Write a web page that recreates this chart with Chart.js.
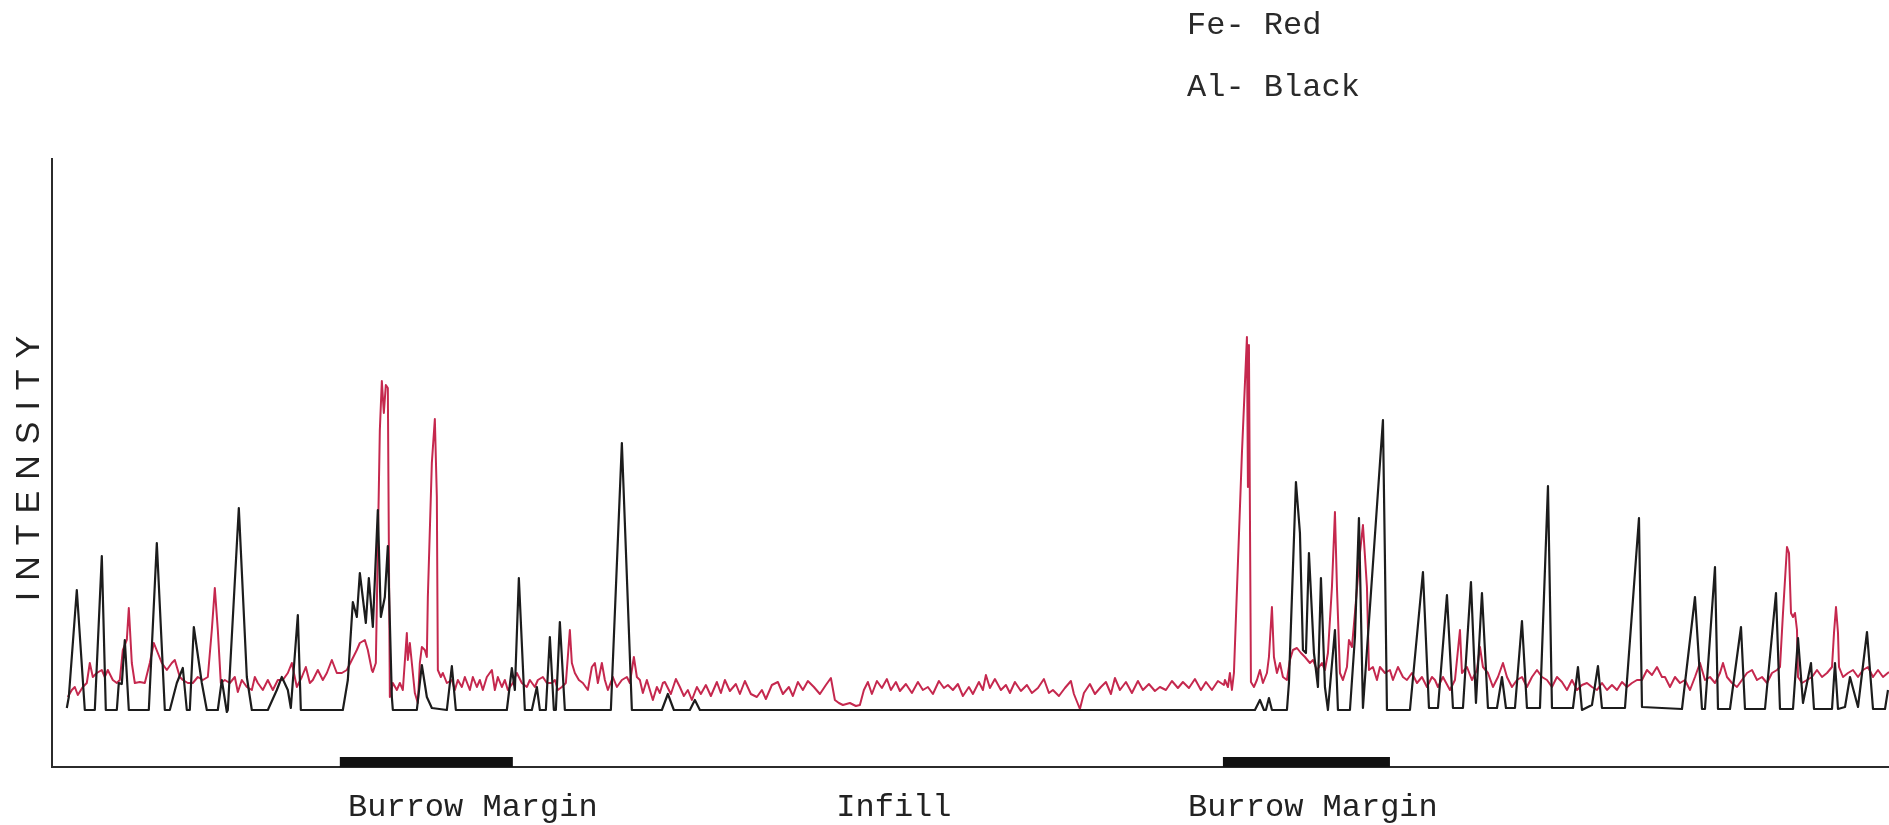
<!DOCTYPE html>
<html>
<head>
    <meta charset="UTF-8">
    <title>Fe / Al intensity profile across burrow</title>
    <script src="https://cdn.jsdelivr.net/npm/chart.js"></script>
    <style>
        body {
            margin: 0;
            background-color: #fff;
        }

        .wrap {
            position: relative;
            width: 1889px;
            height: 825px;
        }

        /* typewriter style key, top right */
        .key {
            position: absolute;
            left: 1187px;
            font-family: "Liberation Mono", monospace;
            font-size: 32px;
            line-height: 32px;
            color: #2a2a2a;
            white-space: pre;
        }
    </style>
</head>
<body>
    <div class="wrap">
        <canvas id="profileChart" width="1889" height="825"></canvas>
        <div class="key" style="top: 10px;">Fe- Red</div>
        <div class="key" style="top: 72px;">Al- Black</div>
    </div>

    <script>
        // Al trace (black): distance along traverse / intensity
        var alDistance = [15, 17, 25, 33, 43, 50, 54, 65, 67, 70, 73, 77, 97, 105, 113, 118, 125, 131, 135, 138,
            142, 150, 155, 166, 170, 175, 176, 187, 195, 200, 216, 225, 230, 236, 239, 246, 249, 291, 296, 301,
            305, 308, 314, 317, 321, 326, 329, 333, 336, 340, 341, 365, 370, 375, 380, 395, 400, 404, 455, 460,
            463, 467, 473, 480, 485, 488, 494, 498, 502, 504, 508, 513, 559, 570, 580, 610, 616, 622, 638, 643,
            648, 1203, 1208, 1212, 1214, 1217, 1220, 1235, 1237, 1244, 1248, 1251, 1254, 1257, 1262, 1266, 1269, 1273, 1276, 1283,
            1286, 1298, 1303, 1307, 1311, 1331, 1333, 1335, 1358, 1371, 1377, 1386, 1395, 1401, 1411, 1419, 1424, 1430, 1436, 1445,
            1450, 1454, 1463, 1470, 1475, 1488, 1496, 1500, 1521, 1526, 1530, 1540, 1546, 1550, 1573, 1587, 1590, 1630, 1643, 1650,
            1653, 1663, 1666, 1678, 1689, 1693, 1713, 1724, 1728, 1741, 1746, 1751, 1759, 1762, 1780, 1783, 1786, 1793, 1798, 1806,
            1815, 1821, 1833, 1836];
        var alIntensity = [59, 70, 177, 57, 57, 211, 57, 57, 84, 83, 127, 57, 57, 224, 57, 57, 84, 99, 57, 57,
            140, 84, 57, 57, 87, 55, 57, 259, 90, 57, 57, 77, 90, 77, 59, 152, 57, 57, 87, 165,
            150, 194, 144, 189, 140, 257, 150, 170, 221, 70, 57, 57, 102, 70, 59, 57, 101, 57, 57, 99,
            77, 189, 57, 57, 80, 57, 57, 130, 57, 57, 145, 57, 57, 324, 57, 57, 73, 57, 57, 67,
            57, 57, 67, 57, 57, 69, 57, 57, 84, 285, 234, 117, 114, 214, 114, 80, 189, 80, 57, 137,
            57, 57, 130, 249, 59, 347, 207, 57, 57, 195, 59, 59, 172, 59, 59, 185, 64, 174, 59, 59,
            90, 59, 59, 146, 59, 59, 281, 59, 59, 100, 57, 62, 101, 59, 59, 249, 60, 58, 170, 58,
            58, 200, 58, 58, 140, 58, 58, 174, 58, 58, 129, 64, 104, 58, 58, 104, 58, 60, 90, 60,
            135, 58, 58, 77];

        // Fe trace (red)
        var feDistance = [16, 20, 23, 26, 31, 35, 38, 41, 45, 50, 53, 56, 61, 65, 68, 71, 75, 77, 80, 83,
            88, 93, 98, 102, 106, 110, 115, 120, 123, 128, 131, 136, 141, 146, 151, 156, 160, 163, 166, 169,
            173, 178, 183, 186, 190, 195, 200, 203, 206, 211, 216, 221, 226, 231, 236, 240, 245, 250, 254, 258,
            261, 266, 271, 275, 280, 285, 290, 295, 300, 305, 308, 313, 316, 320, 321, 324, 328, 330, 332, 334,
            336, 338, 341, 345, 348, 351, 355, 356, 358, 360, 363, 366, 368, 370, 373, 375, 376, 380, 383, 385,
            386, 389, 391, 395, 400, 403, 406, 410, 413, 418, 421, 425, 428, 431, 435, 440, 443, 446, 450, 453,
            456, 461, 465, 470, 475, 478, 483, 486, 491, 495, 500, 503, 506, 510, 514, 518, 520, 523, 527, 531,
            536, 540, 543, 546, 550, 553, 556, 561, 565, 570, 575, 578, 582, 585, 588, 591, 595, 598, 601, 605,
            608, 611, 613, 619, 624, 628, 632, 636, 640, 645, 649, 654, 659, 665, 669, 673, 678, 684, 688, 693,
            699, 705, 710, 714, 720, 726, 731, 737, 741, 746, 751, 756, 762, 768, 774, 779, 783, 787, 791, 798,
            804, 808, 812, 816, 820, 825, 830, 835, 839, 844, 848, 854, 860, 866, 871, 876, 881, 887, 892, 896,
            901, 906, 911, 917, 921, 927, 931, 934, 938, 943, 949, 954, 958, 963, 969, 975, 980, 986, 992, 997,
            1001, 1007, 1013, 1019, 1022, 1028, 1032, 1038, 1043, 1049, 1054, 1059, 1063, 1068, 1074, 1080, 1086, 1091, 1097, 1103,
            1108, 1114, 1120, 1126, 1131, 1137, 1143, 1149, 1154, 1160, 1166, 1172, 1173, 1176, 1178, 1180, 1182, 1190, 1195, 1196,
            1197, 1199, 1202, 1205, 1208, 1211, 1215, 1217, 1220, 1222, 1225, 1228, 1231, 1235, 1238, 1241, 1245, 1249, 1253, 1258,
            1261, 1265, 1270, 1273, 1276, 1280, 1283, 1285, 1288, 1291, 1295, 1297, 1300, 1303, 1308, 1311, 1315, 1317, 1321, 1325,
            1328, 1333, 1338, 1341, 1346, 1351, 1355, 1360, 1365, 1370, 1375, 1380, 1383, 1386, 1391, 1398, 1403, 1408, 1410, 1415,
            1420, 1425, 1428, 1431, 1436, 1441, 1446, 1451, 1455, 1460, 1465, 1470, 1475, 1480, 1485, 1490, 1495, 1500, 1505, 1510,
            1515, 1520, 1525, 1530, 1535, 1540, 1545, 1550, 1555, 1560, 1565, 1570, 1575, 1580, 1585, 1590, 1595, 1600, 1605, 1610,
            1613, 1618, 1623, 1628, 1633, 1638, 1643, 1648, 1653, 1658, 1663, 1668, 1671, 1675, 1680, 1685, 1690, 1695, 1700, 1705,
            1710, 1715, 1720, 1725, 1728, 1731, 1735, 1737, 1739, 1741, 1743, 1745, 1746, 1750, 1755, 1760, 1765, 1770, 1775, 1780,
            1782, 1784, 1786, 1787, 1791, 1796, 1801, 1806, 1811, 1816, 1821, 1826, 1831, 1837];
        var feIntensity = [70, 77, 80, 72, 80, 84, 104, 90, 94, 97, 90, 97, 87, 84, 87, 117, 127, 159, 104, 84,
            85, 84, 104, 124, 114, 104, 97, 104, 107, 90, 87, 84, 84, 90, 87, 90, 137, 179, 137, 84,
            87, 84, 90, 75, 87, 80, 77, 90, 84, 77, 87, 77, 87, 87, 94, 104, 80, 90, 100, 84,
            87, 97, 87, 94, 107, 94, 94, 97, 107, 117, 124, 127, 117, 97, 95, 104, 337, 386, 354, 382,
            379, 70, 84, 77, 84, 77, 134, 107, 124, 104, 74, 64, 104, 120, 117, 110, 170, 304, 348, 270,
            97, 90, 94, 84, 87, 77, 87, 80, 90, 77, 90, 80, 87, 77, 90, 97, 77, 90, 80, 87,
            77, 84, 94, 84, 80, 87, 80, 87, 90, 84, 84, 87, 77, 80, 84, 137, 104, 94, 87, 84,
            77, 100, 104, 84, 104, 87, 77, 90, 80, 87, 90, 84, 110, 90, 87, 74, 87, 77, 67, 80,
            74, 84, 85, 73, 88, 80, 71, 77, 67, 80, 73, 82, 71, 85, 74, 87, 76, 83, 73, 86,
            73, 70, 77, 68, 82, 85, 73, 80, 71, 85, 77, 86, 80, 73, 82, 89, 67, 64, 62, 64,
            61, 62, 77, 85, 73, 86, 79, 88, 77, 85, 76, 83, 74, 85, 77, 80, 73, 86, 79, 82,
            77, 83, 71, 80, 73, 85, 77, 92, 79, 88, 77, 82, 74, 85, 76, 82, 74, 79, 88, 74,
            77, 71, 79, 86, 73, 58, 74, 83, 73, 80, 85, 73, 89, 77, 85, 74, 86, 77, 83, 76,
            80, 77, 86, 79, 85, 79, 88, 77, 85, 77, 86, 82, 87, 80, 94, 77, 94, 314, 430, 280,
            422, 85, 80, 87, 97, 84, 94, 110, 160, 110, 94, 104, 90, 87, 107, 117, 119, 114, 110, 104,
            107, 97, 104, 97, 114, 180, 255, 180, 94, 87, 100, 127, 120, 154, 214, 242, 180, 97, 100, 87,
            100, 94, 97, 87, 100, 90, 87, 94, 84, 90, 80, 90, 87, 80, 90, 77, 87, 137, 94, 100,
            87, 97, 120, 100, 94, 80, 90, 104, 90, 80, 87, 90, 80, 90, 97, 90, 87, 80, 90, 85,
            77, 87, 77, 82, 84, 80, 77, 84, 77, 82, 77, 85, 80, 84, 87, 87, 97, 92, 100, 90,
            90, 80, 90, 84, 87, 77, 90, 104, 87, 90, 84, 94, 104, 90, 84, 80, 87, 94, 97, 87,
            90, 84, 94, 97, 100, 154, 220, 214, 154, 150, 154, 137, 90, 84, 87, 90, 97, 90, 94, 100,
            134, 160, 134, 100, 90, 94, 97, 90, 97, 100, 90, 97, 90, 95];

        // burrow margin markers on the distance axis
        var marginStart = [288, 1171];
        var marginEnd = [461, 1338];

        // zone names under the axis
        var zoneLabels = ['Burrow Margin', 'Infill', 'Burrow Margin'];
        var zonePositions = [421, 842, 1261];

        function toPoints(xs, ys) {
            return xs.map(function (x, i) { return { x: x, y: ys[i] }; });
        }

        var marginPoints = [];
        var MARGIN_Y = 5;
        for (var i = 0; i < marginStart.length; i++) {
            marginPoints.push({ x: marginStart[i], y: MARGIN_Y });
            marginPoints.push({ x: marginEnd[i], y: MARGIN_Y });
            marginPoints.push({ x: marginEnd[i] + 1, y: null });
        }

        // y title is letter-spaced; reset before the datasets (x labels are drawn after them)
        var trackedTitle = {
            id: 'trackedTitle',
            beforeDraw: function (chart) { chart.ctx.letterSpacing = '11px'; },
            beforeDatasetsDraw: function (chart) { chart.ctx.letterSpacing = '0px'; }
        };

        var ctx = document.getElementById('profileChart').getContext('2d');
        var profileChart = new Chart(ctx, {
            type: 'line',
            data: {
                datasets: [{
                    label: 'Al',
                    data: toPoints(alDistance, alIntensity),
                    borderColor: '#1c1c1c',
                    borderWidth: 2.2,
                    borderJoinStyle: 'round'
                }, {
                    label: 'Fe',
                    data: toPoints(feDistance, feIntensity),
                    borderColor: '#c5284e',
                    borderWidth: 2,
                    borderJoinStyle: 'round'
                }, {
                    label: 'Burrow margin',
                    data: marginPoints,
                    borderColor: '#111',
                    borderWidth: 10,
                    borderCapStyle: 'butt',
                    spanGaps: false,
                    clip: false
                }]
            },
            options: {
                responsive: false,
                animation: false,
                devicePixelRatio: 1,
                layout: {
                    padding: { top: 159, right: 0, bottom: 0, left: 0 }
                },
                plugins: {
                    legend: { display: false },
                    tooltip: { enabled: false }
                },
                elements: {
                    point: { radius: 0 },
                    line: { tension: 0 }
                },
                scales: {
                    x: {
                        type: 'linear',
                        min: 0,
                        max: 1837,
                        grid: { display: false, drawTicks: false },
                        border: { display: true, color: '#2b2b2b', width: 2 },
                        afterBuildTicks: function (scale) {
                            scale.ticks = zonePositions.map(function (v) { return { value: v }; });
                        },
                        afterFit: function (scale) {
                            scale.height = 58;
                        },
                        ticks: {
                            z: 1,
                            autoSkip: false,
                            maxRotation: 0,
                            padding: 21,
                            color: '#222',
                            font: { family: 'Liberation Mono', size: 32 },
                            callback: function (value, index) { return zoneLabels[index]; }
                        }
                    },
                    y: {
                        min: 0,
                        max: 608,
                        grid: { display: false, drawTicks: false },
                        border: { display: true, color: '#2b2b2b', width: 2 },
                        ticks: { display: false },
                        title: {
                            display: true,
                            text: 'INTENSITY',
                            color: '#222',
                            font: { family: 'Liberation Sans', size: 34 },
                            padding: { top: 9, bottom: 2 }
                        }
                    }
                }
            },
            plugins: [trackedTitle]
        });
    </script>
</body>
</html>
